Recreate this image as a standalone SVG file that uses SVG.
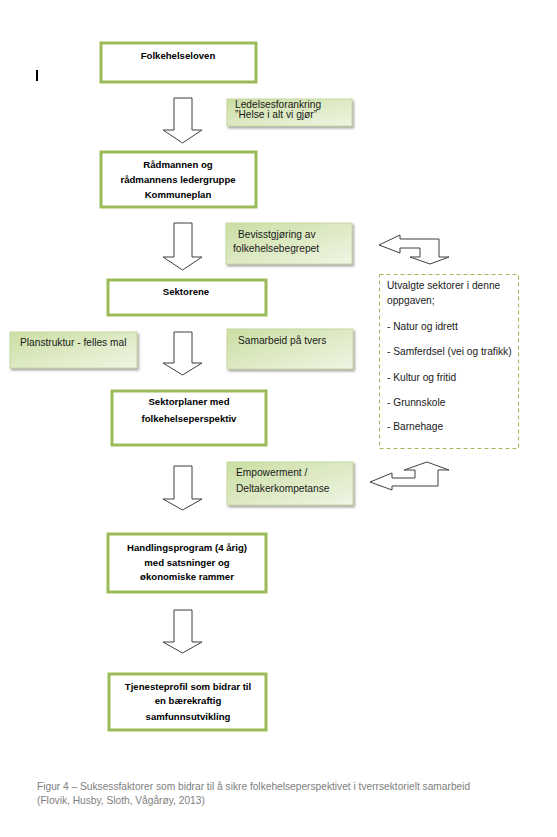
<svg xmlns="http://www.w3.org/2000/svg" width="557" height="837" viewBox="0 0 557 837">
<defs>
<linearGradient id="g" x1="0" y1="0" x2="1" y2="1">
<stop offset="0" stop-color="#cbdea3"/>
<stop offset="1" stop-color="#eff5e4"/>
</linearGradient>
<filter id="sh" x="-10%" y="-10%" width="130%" height="140%">
<feDropShadow dx="1.5" dy="2" stdDeviation="0.8" flood-color="#808080" flood-opacity="0.7"/>
</filter>
</defs>
<style>
.box{fill:#fff;stroke:#9bbb59;stroke-width:3}
.note{fill:url(#g);stroke:#c6d9a0;stroke-width:1;filter:url(#sh)}
.arr{fill:#fff;stroke:#3f3f3f;stroke-width:1}
.b{font-family:"Liberation Sans",Arial,sans-serif;font-weight:bold;font-size:9.6px;fill:#000;text-anchor:middle}
.t{font-family:"Liberation Sans",Arial,sans-serif;font-size:10.2px;fill:#1a1a1a}
.cap{font-family:"Liberation Sans",Arial,sans-serif;font-size:10.2px;fill:#808080}
</style>
<rect width="557" height="837" fill="#fff"/>
<rect x="36" y="70" width="2" height="11" fill="#000"/>

<g id="n1"><rect class="box" x="101" y="43" width="155" height="39"/><text class="b" x="178" y="59">Folkehelseloven</text></g>
<g id="n2"><rect class="box" x="101" y="152" width="155" height="55"/><text class="b" x="178" y="168">Rådmannen og</text><text class="b" x="178" y="183">rådmannens ledergruppe</text><text class="b" x="178" y="198">Kommuneplan</text></g>
<g id="n3"><rect class="box" x="108" y="280" width="158" height="35"/><text class="b" x="186" y="295">Sektorene</text></g>
<g id="n4"><rect class="box" x="112" y="391" width="154" height="54"/><text class="b" x="189" y="405">Sektorplaner med</text><text class="b" x="189" y="422">folkehelseperspektiv</text></g>
<g id="n5"><rect class="box" x="108" y="534" width="158" height="58"/><text class="b" x="187" y="551">Handlingsprogram (4 årig)</text><text class="b" x="187" y="566">med satsninger og</text><text class="b" x="187" y="580">økonomiske rammer</text></g>
<g id="n6"><rect class="box" x="109" y="674" width="157" height="56"/><text class="b" x="188" y="690">Tjenesteprofil som bidrar til</text><text class="b" x="188" y="704">en bærekraftig</text><text class="b" x="188" y="720">samfunnsutvikling</text></g>

<g id="s1"><rect class="note" x="227" y="99" width="125" height="27"/><text class="t" x="235" y="108">Ledelsesforankring</text><text class="t" x="235" y="118">”Helse i alt vi gjør”</text></g>
<g id="s2"><rect class="note" x="226" y="223" width="126" height="41"/><text class="t" x="238" y="238">Bevisstgjøring av</text><text class="t" x="233" y="252">folkehelsebegrepet</text></g>
<g id="s3"><rect class="note" x="10" y="332" width="127" height="36"/><text class="t" x="20" y="346">Planstruktur - felles mal</text></g>
<g id="s4"><rect class="note" x="227" y="329" width="126" height="40"/><text class="t" x="238" y="344">Samarbeid på tvers</text></g>
<g id="s5"><rect class="note" x="227" y="462" width="126" height="43"/><text class="t" x="236" y="476">Empowerment /</text><text class="t" x="236" y="492">Deltakerkompetanse</text></g>

<g id="sectors"><rect x="379.5" y="274.5" width="139" height="174" fill="#fff" stroke="#9bbb59" stroke-width="1" stroke-dasharray="4,3"/>
<text class="t" x="387" y="289">Utvalgte sektorer i denne</text>
<text class="t" x="387" y="304">oppgaven;</text>
<text class="t" x="387" y="330">- Natur og idrett</text>
<text class="t" x="387" y="355">- Samferdsel (vei og trafikk)</text>
<text class="t" x="387" y="381">- Kultur og fritid</text>
<text class="t" x="387" y="406">- Grunnskole</text>
<text class="t" x="387" y="430">- Barnehage</text>
</g>

<g id="connectors">
<polygon class="arr" points="174,98 192,98 192,130 202,130 182.5,143 163,130 174,130"/>
<polygon class="arr" points="174,223 192,223 192,257 202,257 182.5,270 163,257 174,257"/>
<polygon class="arr" points="174,332 192,332 192,363 202,363 182.5,375 163,363 174,363"/>
<polygon class="arr" points="174,466 192,466 192,499 202,499 182.5,510 163,499 174,499"/>
<polygon class="arr" points="174,610 192,610 192,642 202,642 182.5,653 163,642 174,642"/>
<polygon class="arr" points="379,245 400,235 400,239 439,239 439,257 449,257 430,264 410,257 420,257 420,248 400,248 400,253"/>
<polygon class="arr" points="370,482 392,473 392,478 415,478 415,470 404,470 427,462 449,470 438,470 438,486 392,486 392,490"/>
</g>

<text class="cap" x="37" y="790">Figur 4 – Suksessfaktorer som bidrar til å sikre folkehelseperspektivet i tverrsektorielt samarbeid</text>
<text class="cap" x="37" y="804">(Flovik, Husby, Sloth, Vågårøy, 2013)</text>
</svg>
